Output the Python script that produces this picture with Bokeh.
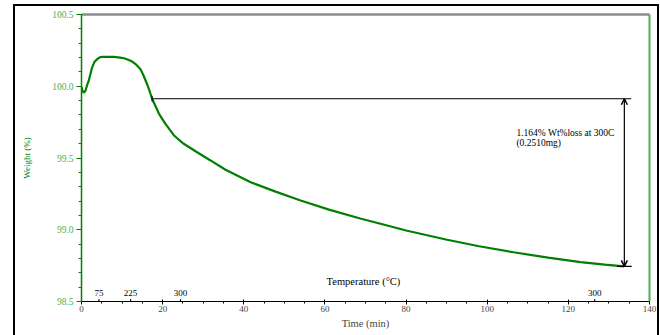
from bokeh.plotting import figure
from bokeh.models import (LinearAxis, Range1d, Arrow, OpenHead, FixedTicker,
                          Label, PrintfTickFormatter, ColumnDataSource)
from bokeh.core.properties import value
from bokeh.embed import file_html
from bokeh.resources import INLINE

# ---- data ----
time_min = [0, 0.3, 0.6, 1.0, 1.4, 1.8, 2.2, 2.6, 3.2, 3.9, 4.6, 5.3, 6.5, 8.0, 9.5, 10.5,
            11.5, 12.5, 13.5, 14.5, 15.2, 15.8, 16.5, 17.4, 19.1, 20.7, 22.8, 25.2, 28.5,
            31.8, 35.5, 41.7, 48.0, 54.0, 61.0, 68.7, 73.7, 80.0, 90.1, 98.0,
            106.5, 115.0, 123.0, 129.0, 133.7]
weight_pct = [99.995, 99.965, 99.955, 99.97, 100.01, 100.04, 100.085, 100.13, 100.17, 100.19,
              100.203, 100.205, 100.205, 100.205, 100.2, 100.195, 100.185, 100.172, 100.15,
              100.12, 100.08, 100.04, 99.99, 99.913, 99.808, 99.738, 99.657, 99.599, 99.54,
              99.483, 99.418, 99.331, 99.264, 99.204, 99.14, 99.078, 99.042, 98.995,
              98.93, 98.885, 98.843, 98.806, 98.775, 98.757, 98.745]

temp_tick_time = [4.3, 12.1, 24.4, 126.5]
temp_tick_label = ["75", "225", "300", "300"]

x_ticks = [0, 20, 40, 60, 80, 100, 120, 140]
x_minor = [0, 5, 10, 15, 20, 25, 30, 35, 40, 45, 50, 55, 60, 65, 70, 75, 80, 85, 90, 95,
           100, 105, 110, 115, 120, 125, 130, 135, 140]
y_ticks = [98.5, 99.0, 99.5, 100.0, 100.5]
y_minor = [98.5, 98.6, 98.7, 98.8, 98.9, 99.0, 99.1, 99.2, 99.3, 99.4, 99.5, 99.6, 99.7,
           99.8, 99.9, 100.0, 100.1, 100.2, 100.3, 100.4, 100.5]

onset_time = [17.4]
step_time = [133.8]
onset_weight = [99.913]
end_weight = [98.745]
loss_text = ["1.164% Wt%loss at 300C", "(0.2510mg)"]

FONT = "Liberation Serif"
GREEN = "#008000"
LGREEN = "#4caf50"

p = figure(width=646, height=331, x_range=Range1d(0, 140), y_range=Range1d(98.5, 100.5),
           output_backend="svg", toolbar_location=None,
           min_border_left=68, min_border_right=10, min_border_top=10, min_border_bottom=34)
p.margin = (4, 0, 0, 13)
# outer black frame: left, top and right edges (the bottom runs below the window)
p.styles = {"box-shadow": "inset 2px 2px 0 0 black, inset -2px 0 0 0 black"}
p.outline_line_color = None
p.grid.visible = False
p.background_fill_color = "white"
p.border_fill_color = None

# bottom axis
xa = p.xaxis[0]
xa.ticker = FixedTicker(ticks=x_ticks, minor_ticks=x_minor)
xa.axis_label = "Time (min)"
xa.axis_label_text_font = FONT
xa.axis_label_text_font_style = "normal"
xa.axis_label_text_font_size = "10.5px"
xa.axis_label_standoff = 3
xa.major_label_text_font = FONT
xa.major_label_text_font_size = "9px"
xa.major_label_standoff = 1
xa.major_tick_in = 2
xa.major_tick_out = 3
xa.minor_tick_in = 0
xa.minor_tick_out = 2
xa.axis_line_color = "black"
xa.major_tick_line_color = "black"
xa.minor_tick_line_color = "black"

# left axis
ya = p.yaxis[0]
ya.ticker = FixedTicker(ticks=y_ticks, minor_ticks=y_minor)
ya.formatter = PrintfTickFormatter(format="%.1f")
ya.axis_label = "Weight (%)"
ya.axis_label_text_font = FONT
ya.axis_label_text_font_style = "normal"
ya.axis_label_text_font_size = "9px"
ya.axis_label_text_color = GREEN
ya.axis_label_standoff = 17
ya.major_label_text_font = FONT
ya.major_label_text_font_size = "9.5px"
ya.major_label_text_color = LGREEN
ya.major_label_standoff = 3
ya.major_tick_in = 0
ya.major_tick_out = 5
ya.minor_tick_in = 0
ya.minor_tick_out = 3
ya.axis_line_color = GREEN
ya.axis_line_width = 1.5
ya.major_tick_line_color = GREEN
ya.minor_tick_line_color = GREEN

# top (gray) and right (green) frame lines
frame_axis_kw = dict(ticker=FixedTicker(ticks=[]), major_tick_line_color=None,
                     minor_tick_line_color=None, major_tick_out=0, major_tick_in=0,
                     minor_tick_out=0, minor_tick_in=0, major_label_standoff=0,
                     axis_label_standoff=0)
top = LinearAxis(axis_line_color="#8c8c8c", axis_line_width=2.5, **frame_axis_kw)
right = LinearAxis(axis_line_color=LGREEN, axis_line_width=2, **frame_axis_kw)
p.add_layout(top, "above")
p.add_layout(right, "right")

# curve
p.line(time_min, weight_pct, line_color=GREEN, line_width=2.2)

# temperature secondary ticks
ts = ColumnDataSource(dict(x=temp_tick_time, y0=[98.5] * len(temp_tick_time),
                           y1=[98.515] * len(temp_tick_time),
                           ty=[98.556] * len(temp_tick_time), t=temp_tick_label))
p.segment(x0="x", y0="y0", x1="x", y1="y1", source=ts, line_color="black", line_width=1.2)
p.text(x="x", y="ty", text="t", source=ts, text_font=value(FONT), text_font_size="9px",
       text_align="center", text_baseline="middle", text_color="black")
p.add_layout(Label(x=69.5, y=98.64, text="Temperature (°C)", text_font=FONT,
                   text_font_size="10.5px", text_align="center", text_baseline="middle",
                   text_color="black"))

# step annotation
p.segment(x0=onset_time, y0=onset_weight, x1=[step_time[0] + 1.7], y1=onset_weight,
          line_color="black", line_width=1)
p.segment(x0=onset_time, y0=[onset_weight[0] + 0.02], x1=onset_time,
          y1=[onset_weight[0] - 0.02], line_color="black", line_width=1)
p.segment(x0=[step_time[0] - 1.8], y0=end_weight, x1=[step_time[0] + 1.8], y1=end_weight,
          line_color="black", line_width=1.2)
p.add_layout(Arrow(x_start=step_time[0], y_start=end_weight[0], x_end=step_time[0],
                   y_end=onset_weight[0], line_color="black", line_width=1.2,
                   start=OpenHead(size=6, line_width=1.5, line_color="black"),
                   end=OpenHead(size=6, line_width=1.5, line_color="black")))
p.add_layout(Label(x=107.2, y=99.672, text=loss_text[0], text_font=FONT,
                   text_font_size="9.5px", text_baseline="middle", text_color="black"))
p.add_layout(Label(x=107.2, y=99.605, text=loss_text[1], text_font=FONT,
                   text_font_size="9.5px", text_baseline="middle", text_color="black"))

open("out.html", "w").write(file_html(p, INLINE))
